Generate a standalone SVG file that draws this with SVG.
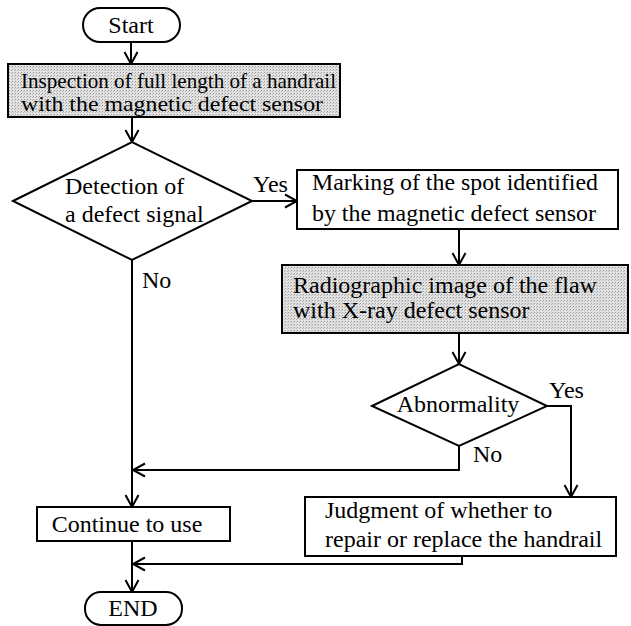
<svg xmlns="http://www.w3.org/2000/svg" width="631" height="626" viewBox="0 0 631 626">
<defs>
<marker id="arr" markerUnits="userSpaceOnUse" markerWidth="16" markerHeight="16" viewBox="-14 -8 16 16" refX="0" refY="0" orient="auto">
<polyline points="-12,-6.5 0,0 -12,6.5" fill="none" stroke="#000" stroke-width="2"/>
</marker>
<pattern id="dots" width="3" height="3" patternUnits="userSpaceOnUse">
<rect width="3" height="3" fill="#e2e2e2"/>
<rect x="0" y="0" width="1" height="1" fill="#9a9a9a"/>
<rect x="2" y="1" width="1" height="1" fill="#b5b5b5"/>
</pattern>
</defs>
<style>
.t{font-family:"Liberation Serif","Times New Roman",serif;font-size:24px;fill:#000}
.s{font-size:21px}
.box{fill:#fff;stroke:#000;stroke-width:2}
.gray{fill:url(#dots);stroke:#000;stroke-width:2}
.c{fill:none;stroke:#000;stroke-width:2}
</style>
<rect width="631" height="626" fill="#fff"/>

<g id="connectors">
<line class="c" x1="131" y1="42" x2="131" y2="64" marker-end="url(#arr)"/>
<line class="c" x1="132" y1="117" x2="132" y2="142" marker-end="url(#arr)"/>
<line class="c" x1="252" y1="201" x2="297" y2="201" marker-end="url(#arr)"/>
<line class="c" x1="459" y1="229" x2="459" y2="265" marker-end="url(#arr)"/>
<line class="c" x1="459" y1="333" x2="459" y2="364" marker-end="url(#arr)"/>
<polyline class="c" points="547,406 571,406 571,497" marker-end="url(#arr)"/>
<polyline class="c" points="459,446 459,470 133,470" marker-end="url(#arr)"/>
<line class="c" x1="132" y1="260" x2="132" y2="507" marker-end="url(#arr)"/>
<polyline class="c" points="462,556 462,564 133,564" marker-end="url(#arr)"/>
<line class="c" x1="132" y1="541" x2="132" y2="592" marker-end="url(#arr)"/>
<text class="t" x="253" y="192">Yes</text>
<text class="t" x="142" y="288">No</text>
<text class="t" x="549" y="398">Yes</text>
<text class="t" x="473" y="462">No</text>
</g>

<g id="start">
<rect class="box" x="83" y="8" width="97" height="34" rx="17"/>
<text class="t" x="131" y="33" text-anchor="middle">Start</text>
</g>

<g id="inspection">
<rect class="gray" x="8" y="64" width="332" height="53"/>
<text class="t s" x="21" y="88" textLength="315" lengthAdjust="spacingAndGlyphs">Inspection of full length of a handrail</text>
<text class="t s" x="21" y="111" textLength="302" lengthAdjust="spacingAndGlyphs">with the magnetic defect sensor</text>
</g>

<g id="detection">
<polygon class="box" points="13,201 132,142 252,201 132,260"/>
<text class="t" x="65" y="194">Detection of</text>
<text class="t" x="65" y="222">a defect signal</text>
</g>

<g id="marking">
<rect class="box" x="297" y="170" width="321" height="59"/>
<text class="t" x="312" y="190" textLength="286" lengthAdjust="spacingAndGlyphs">Marking of the spot identified</text>
<text class="t" x="312" y="221" textLength="284" lengthAdjust="spacingAndGlyphs">by the magnetic defect sensor</text>
</g>

<g id="radiographic">
<rect class="gray" x="282" y="265" width="346" height="68"/>
<text class="t" x="293" y="293">Radiographic image of the flaw</text>
<text class="t" x="293" y="318">with X-ray defect sensor</text>
</g>

<g id="abnormality">
<polygon class="box" points="372,406 459,364 547,406 459,446"/>
<text class="t" x="458" y="412" text-anchor="middle">Abnormality</text>
</g>

<g id="continue">
<rect class="box" x="37" y="507" width="193" height="34"/>
<text class="t" x="127" y="532" text-anchor="middle">Continue to use</text>
</g>

<g id="judgment">
<rect class="box" x="305" y="497" width="311" height="59"/>
<text class="t" x="325" y="518">Judgment of whether to</text>
<text class="t" x="325" y="547">repair or replace the handrail</text>
</g>

<g id="end">
<rect class="box" x="85" y="592" width="97" height="33" rx="16"/>
<text class="t" x="133" y="616" text-anchor="middle">END</text>
</g>
</svg>
